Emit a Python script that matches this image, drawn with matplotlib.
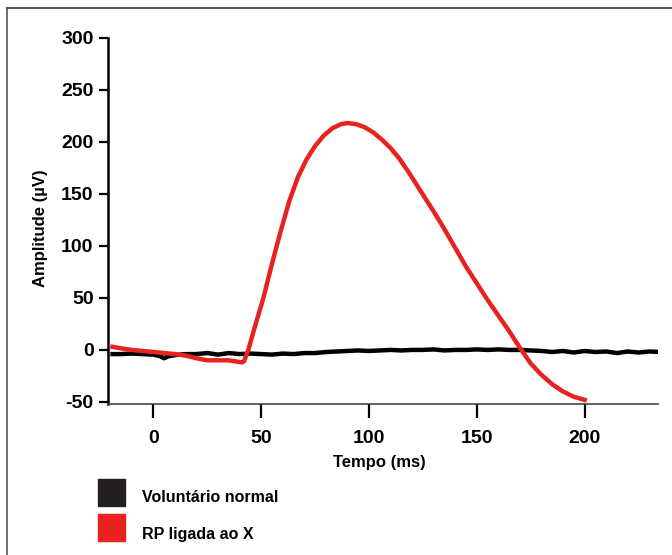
import matplotlib
matplotlib.use("Agg")
import matplotlib.pyplot as plt
from matplotlib.lines import Line2D
from matplotlib.patches import Rectangle

plt.rcParams['font.family'] = ['Liberation Sans', 'DejaVu Sans']
plt.rcParams['font.weight'] = 'bold'
plt.rcParams['axes.unicode_minus'] = False

# black trace: normal volunteer (time in ms, amplitude in uV)
normal_t = [-20, -15, -10, -5, 0, 3, 5, 7, 10, 15, 20, 25, 30, 35, 40, 45, 50,
            55, 60, 65, 70, 75, 80, 85, 90, 95, 100, 105, 110, 115, 120, 125,
            130, 135, 140, 145, 150, 155, 160, 165, 170, 175, 180, 185, 190,
            195, 200, 205, 210, 215, 220, 225, 230, 235]
normal_uv = [-4, -4, -3.5, -4, -4.5, -6, -8, -6, -5, -4, -4, -3, -4.5, -3, -4,
             -3.5, -4, -4.5, -3.5, -4, -3, -3, -2, -1.5, -1, -0.5, -1, -0.5,
             0, -0.5, 0, 0, 0.5, -0.5, 0, 0, 0.5, 0, 0.5, 0, 0, -0.5, -1, -2,
             -1, -2.5, -1, -2, -1.5, -3, -1.5, -2.5, -1.5, -2]

# red trace: X-linked RP
rp_t = [-19, -15, -10, -5, 0, 5, 10, 15, 20, 25, 30, 35, 38, 41, 42, 44, 47,
        51, 55, 59, 63, 67, 71, 75, 79, 83, 87, 90, 94, 98, 102, 106, 110,
        114, 118, 122, 126, 130, 135, 140, 145, 150, 155, 160, 165, 170, 175,
        180, 185, 190, 195, 200]
rp_uv = [3, 1.5, 0, -1, -2, -3, -4, -5.5, -8, -10, -10, -10, -11, -12, -11, 0,
         22, 50, 83, 114, 143, 166, 183, 196, 206, 213, 217, 218, 217, 214,
         209, 202, 194, 184, 172, 159, 146, 133, 116, 98, 80, 64, 48, 33,
         18, 2, -13, -24, -33, -40, -45, -48]

xticks = [0, 50, 100, 150, 200]
yticks = [-50, 0, 50, 100, 150, 200, 250, 300]
series_names = ["Voluntário normal", "RP ligada ao X"]
series_colors = ["#231f20", "#e8231f"]

fig = plt.figure(figsize=(6.72, 5.55), dpi=100)
ax = fig.add_axes([0.161, 0.272, 0.818, 0.660])

ax.plot(normal_t, normal_uv, color="black", lw=3.2, solid_capstyle="butt")
ax.plot(rp_t, rp_uv, color="#e8231f", lw=3.2)

ax.set_xlim(-21, 234)
ax.set_ylim(-52, 300)
ax.set_xticks(xticks)
ax.set_yticks(yticks)
ax.tick_params(axis="x", length=10, width=1.6, pad=9, labelsize=14)
ax.tick_params(axis="y", length=6.5, width=1.6, pad=4, labelsize=14)
for side in ["top", "right"]:
    ax.spines[side].set_visible(False)
ax.spines["left"].set_linewidth(1.8)
ax.spines["bottom"].set_linewidth(1.2)
ax.spines["bottom"].set_color("#444444")

fig.text(41 / 672, 1 - 228 / 555, "Amplitude (µV)", rotation=90, ha="center",
         va="center", fontsize=12, fontweight="bold")
fig.text(379 / 672, 1 - 462 / 555, "Tempo (ms)", ha="center", va="center",
         fontsize=12, fontweight="bold")

# legend drawn as squares + labels
for i, (name, col) in enumerate(zip(series_names, series_colors)):
    y0 = 1 - (506 + i * 35) / 555
    fig.patches.append(Rectangle((98 / 672, y0), 27 / 672, 27 / 555,
                                 transform=fig.transFigure, color=col))
    fig.text(142 / 672, 1 - (498 + i * 37) / 555, name, ha="left",
             va="center", fontsize=11.5, fontweight="bold")

# frame lines (top and left)
fig.add_artist(Line2D([7 / 672, 1], [1 - 8 / 555, 1 - 8 / 555],
                      transform=fig.transFigure, color="#555555", lw=1.5))
fig.add_artist(Line2D([7 / 672, 7 / 672], [0, 1 - 8 / 555],
                      transform=fig.transFigure, color="#555555", lw=1.2))

fig.savefig("out.png", dpi=100)
